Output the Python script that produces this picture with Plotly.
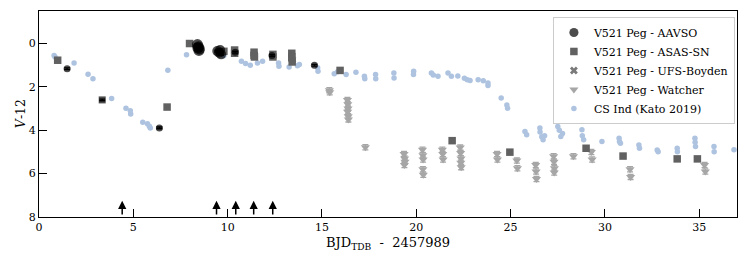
import plotly.graph_objects as go

# ---------------- data ----------------
aavso_x = [1.49, 3.35, 6.38, 8.40, 8.45, 8.50, 8.48, 8.42, 9.45, 9.55, 9.65, 9.60, 10.40, 12.35, 14.60]
aavso_y = [1.16, 2.60, 3.89, 0.05, 0.15, 0.25, 0.32, 0.20, 0.35, 0.42, 0.50, 0.30, 0.40, 0.55, 1.00]
aavso_sym = ["circle", "square", "circle"] + ["circle"] * 12
aavso_size = [7, 7, 7, 11, 11, 11, 11, 11, 10, 10, 10, 10, 7, 7, 7]

asas_x = [0.99, 6.79, 7.98, 9.80, 10.37, 10.37, 11.40, 11.40, 11.42, 12.40, 12.40, 13.40, 13.40, 13.42, 15.96,
          21.90, 24.96, 29.00, 30.96, 33.83, 34.90]
asas_y = [0.77, 2.93, 0.00, 0.36, 0.30, 0.45, 0.40, 0.55, 0.62, 0.50, 0.62, 0.45, 0.65, 0.85, 1.24,
          4.48, 5.01, 4.83, 5.19, 5.32, 5.32]

ufs_x = [10.38, 11.41, 12.39, 13.41, 13.43]
ufs_y = [0.42, 0.50, 0.58, 0.55, 0.75]

watch_x = [15.39, 15.41, 16.35, 16.37, 16.38, 16.36, 16.39, 16.40, 17.30,
           19.35, 19.38, 19.40, 19.37, 20.33, 20.35, 20.36, 20.35, 20.37,
           21.38, 21.40, 21.42, 22.33, 22.35, 22.37, 22.36, 22.38,
           24.28, 24.30, 25.33, 25.36, 26.33, 26.35, 26.37, 27.28, 27.30, 27.32, 27.31,
           28.33, 29.28, 29.32, 31.33, 31.36, 35.28, 35.32]
watch_y = [2.15, 2.25, 2.60, 2.80, 3.00, 3.15, 3.35, 3.50, 4.78,
           5.10, 5.30, 5.45, 5.60, 4.90, 5.15, 5.35, 5.80, 6.05,
           4.90, 5.10, 5.35, 4.80, 5.05, 5.30, 5.50, 5.70,
           5.10, 5.35, 5.40, 5.75, 5.60, 5.90, 6.25, 5.20, 5.45, 5.75, 5.95,
           5.20, 5.00, 5.35, 5.80, 6.15, 5.60, 5.90]
watch_err = [0.12] * len(watch_x)

cs_x = [0.80, 0.85, 1.86, 2.60, 2.86, 3.85, 4.61, 4.84, 4.86, 5.50, 5.75, 5.85, 5.90, 6.83, 7.82,
        9.80, 10.73, 10.95, 11.20, 11.58, 11.85, 12.70, 12.72, 13.26, 13.70, 13.80, 14.77, 14.79,
        15.65, 15.83, 16.28, 16.80, 17.25, 17.27, 17.84, 17.85, 18.81, 18.82, 19.86, 19.85,
        20.80, 20.90, 21.15, 21.68, 21.86, 22.20, 22.55, 22.70, 22.85, 23.28, 23.55, 23.80, 23.80,
        24.50, 24.80, 24.84, 25.76, 25.85, 26.55, 26.56, 26.65, 26.72, 26.80,
        27.50, 27.58, 27.66, 27.75, 28.78, 28.80, 28.87, 29.84, 30.75, 30.77, 30.82,
        31.80, 31.83, 32.77, 32.82, 33.83, 33.84, 34.77, 34.78, 34.80, 35.78, 35.79, 36.84]
cs_y = [0.55, 0.62, 0.90, 1.42, 1.63, 2.53, 2.98, 3.10, 3.25, 3.63, 3.70, 3.82, 3.90, 1.23, 0.52,
        0.56, 0.82, 0.92, 1.00, 0.90, 0.82, 0.90, 1.05, 1.08, 1.02, 0.97, 1.12, 1.28,
        1.39, 1.30, 1.43, 1.33, 1.51, 1.63, 1.43, 1.62, 1.36, 1.59, 1.28, 1.43,
        1.36, 1.45, 1.51, 1.36, 1.51, 1.50, 1.60, 1.67, 1.70, 1.67, 1.72, 1.82, 1.94,
        2.51, 2.83, 2.98, 4.06, 4.21, 3.90, 4.08, 4.30, 4.44, 4.25,
        3.83, 4.00, 4.29, 4.15, 3.98, 4.25, 4.44, 4.52, 4.37, 4.52, 4.60,
        4.68, 4.83, 4.91, 4.99, 4.83, 4.99, 4.37, 4.55, 4.75, 4.75, 4.99, 4.90]

arrow_x = [4.41, 9.41, 10.43, 11.38, 12.39]

x_ticks = [0, 5, 10, 15, 20, 25, 30, 35]
y_ticks = [0, 2, 4, 6, 8]

# ---------------- figure ----------------
FONT = "DejaVu Serif"
fig = go.Figure()

fig.add_trace(go.Scatter(
    x=cs_x, y=cs_y, mode="markers", name="CS Ind (Kato 2019)",
    marker=dict(color="#aec3e0", size=5.5, line=dict(width=0))))

fig.add_trace(go.Scatter(
    x=watch_x, y=watch_y, mode="markers", name="V521 Peg - Watcher",
    marker=dict(color="#a6a6a6", size=8, symbol="triangle-down", line=dict(width=0)),
    error_y=dict(type="data", array=watch_err, color="#a6a6a6", thickness=1.3, width=3)))

fig.add_trace(go.Scatter(
    x=ufs_x, y=ufs_y, mode="markers", name="V521 Peg - UFS-Boyden",
    marker=dict(color="#7a7a7a", size=7, symbol="x", line=dict(width=0)),
    error_y=dict(type="data", array=[0.08] * len(ufs_x), color="#7a7a7a", thickness=1.3, width=3)))

fig.add_trace(go.Scatter(
    x=asas_x, y=asas_y, mode="markers", name="V521 Peg - ASAS-SN",
    marker=dict(color="#616161", size=7.5, symbol="square", line=dict(width=0)),
    error_y=dict(type="data", array=[0.05] * len(asas_x), color="#616161", thickness=1.3, width=3)))

fig.add_trace(go.Scatter(
    x=aavso_x, y=aavso_y, mode="markers", name="V521 Peg - AAVSO",
    marker=dict(color="black", size=aavso_size, symbol=aavso_sym, line=dict(width=0)),
    error_y=dict(type="data", array=[0.04] * len(aavso_x), color="black", thickness=1.3, width=3)))

for ax_ in arrow_x:
    fig.add_annotation(x=ax_, y=7.25, ax=ax_, ay=7.95, xref="x", yref="y",
                       axref="x", ayref="y", showarrow=True, arrowhead=2,
                       arrowsize=1.1, arrowwidth=1.5, arrowcolor="black", text="")

# y-axis title placed as a rotated annotation for exact position
fig.add_annotation(text="<i>V</i>-12", xref="paper", yref="paper", x=-0.027, y=0.5,
                   xanchor="center", yanchor="middle", textangle=-90, showarrow=False,
                   font=dict(family=FONT, size=12.5, color="black"))

axis_common = dict(showgrid=False, zeroline=False, showline=True, linecolor="black",
                   linewidth=1.2, mirror=True, ticks="inside", ticklen=8,
                   tickwidth=1.2, tickcolor="black", automargin=False,
                   tickfont=dict(family=FONT, size=11, color="black"))

fig.update_xaxes(range=[0, 37], tickvals=x_ticks, **axis_common,
                 title=dict(text="BJD<sub>TDB</sub>  -  2457989",
                            font=dict(family=FONT, size=13, color="black"), standoff=4))
fig.update_yaxes(range=[8, -1.5], tickvals=y_ticks, **axis_common)

# page body has an 8px default margin, so the figure is 8px smaller each way
fig.update_layout(
    width=739, height=253,
    margin=dict(l=31, r=10, t=3, b=44),
    plot_bgcolor="white", paper_bgcolor="white",
    font=dict(family=FONT, size=11, color="black"),
    legend=dict(x=0.997, y=0.971, xanchor="right", yanchor="top",
                bgcolor="white", bordercolor="#cccccc", borderwidth=1,
                traceorder="reversed", font=dict(family=FONT, size=11, color="black"),
                itemwidth=30, tracegroupgap=0),
    showlegend=True,
)

fig.write_html("out.html")
